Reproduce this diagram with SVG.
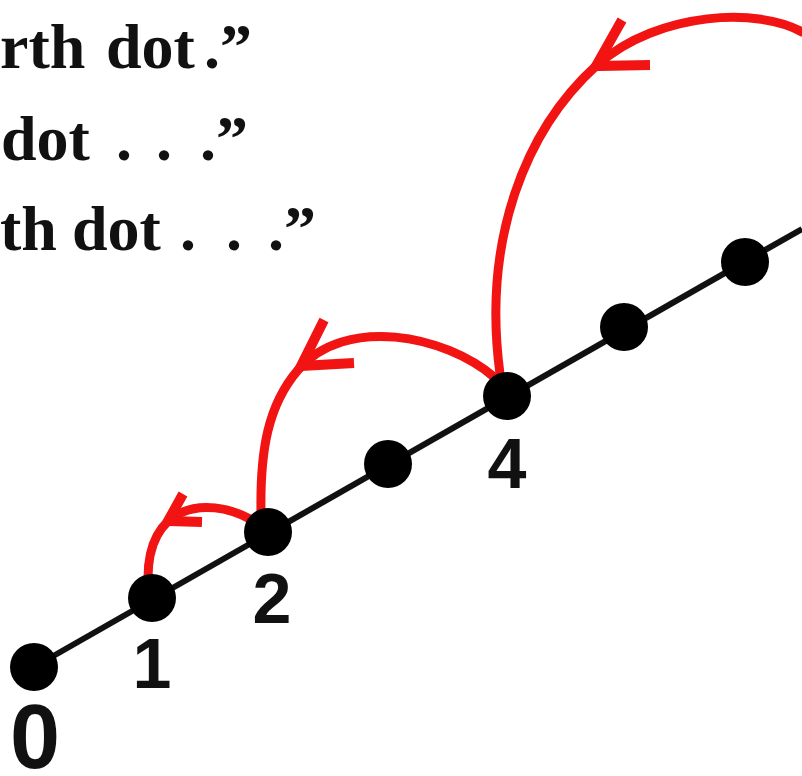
<svg xmlns="http://www.w3.org/2000/svg" width="802" height="776" viewBox="0 0 802 776">
<style>
.txt{font-family:"Liberation Serif","Times New Roman",serif;font-weight:bold;font-size:64px;fill:#111}
.num{font-family:"Liberation Sans",Arial,sans-serif;font-weight:bold;fill:#111;text-anchor:middle}
.dot{fill:#000}
.arc{fill:none;stroke:#f21313;stroke-width:9;stroke-linecap:round}
.head{fill:none;stroke:#f21313;stroke-width:10;stroke-linecap:butt;stroke-linejoin:miter}
.axis{stroke:#111;stroke-width:6;fill:none}
</style>
<rect width="802" height="776" fill="#fff"/>
<g id="text">
<text class="txt" y="68"><tspan x="0">rth</tspan><tspan x="106">dot</tspan><tspan x="204">.”</tspan></text>
<text class="txt" y="160"><tspan x="1">dot</tspan><tspan x="116">.</tspan><tspan x="156">.</tspan><tspan x="200">.”</tspan></text>
<text class="txt" y="250"><tspan x="0">th</tspan><tspan x="72">dot</tspan><tspan x="180">.</tspan><tspan x="226">.</tspan><tspan x="268">.”</tspan></text>
</g>
<g id="connectors">
<path class="axis" d="M34,667 L802,229"/>
<path class="arc" d="M802,32 C760,8 660,10 597,65 C525,130 482,240 500,374"/>
<path class="head" d="M622,20 L596,66 L650,65"/>
<path class="arc" d="M494,377 C445,335 345,315 298,370 C268,405 260,450 261,512"/>
<path class="head" d="M324,320 L301,366 L354,363"/>
<path class="arc" d="M250,519 C205,495 147,505 148,580"/>
<path class="head" d="M183,494 L168,521 L202,522"/>
</g>
<g id="node0"><circle class="dot" cx="34" cy="667" r="24"/><text class="num" x="35" y="768" font-size="90">0</text></g>
<g id="node1"><circle class="dot" cx="152" cy="598" r="24"/><text class="num" x="152" y="688" font-size="70">1</text></g>
<g id="node2"><circle class="dot" cx="268" cy="532" r="24"/><text class="num" x="272" y="623" font-size="70">2</text></g>
<g id="node3"><circle class="dot" cx="388" cy="464" r="24"/></g>
<g id="node4"><circle class="dot" cx="507" cy="396" r="24"/><text class="num" x="507" y="488" font-size="70">4</text></g>
<g id="node5"><circle class="dot" cx="624" cy="327" r="24"/></g>
<g id="node6"><circle class="dot" cx="745" cy="262" r="24"/></g>
</svg>
